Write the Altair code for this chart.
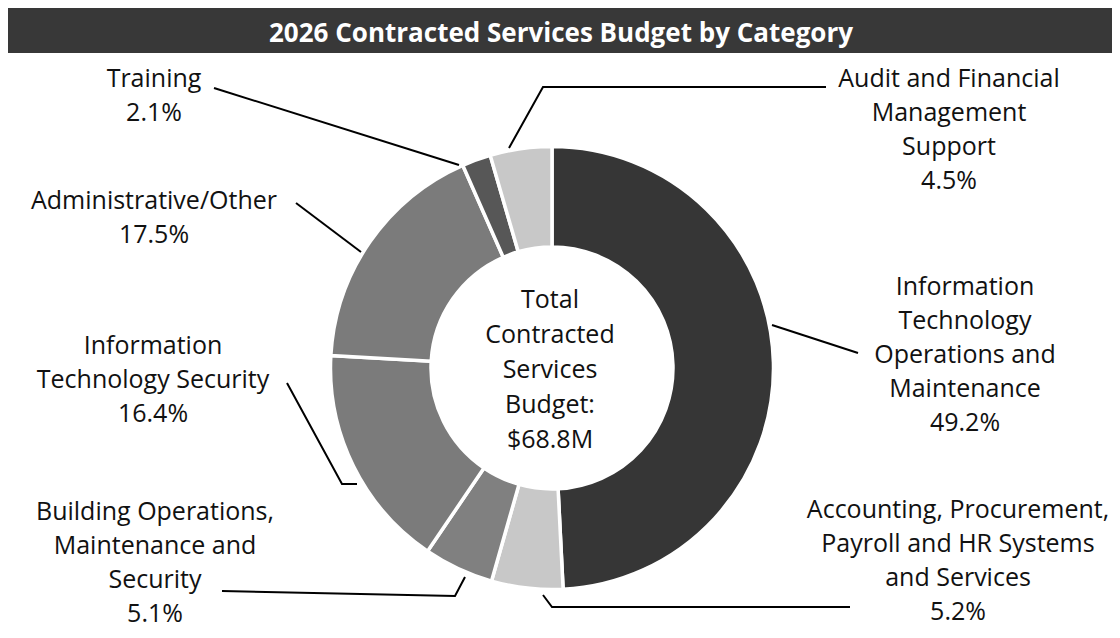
import altair as alt
import pandas as pd

# ---------------- data ----------------
categories = [
    "Information Technology Operations and Maintenance",
    "Accounting, Procurement, Payroll and HR Systems and Services",
    "Building Operations, Maintenance and Security",
    "Information Technology Security",
    "Administrative/Other",
    "Training",
    "Audit and Financial Management Support",
]
shares = [49.2, 5.2, 5.1, 16.4, 17.5, 2.1, 4.5]
label_lines = [
    ["Information", "Technology", "Operations and", "Maintenance"],
    ["Accounting, Procurement,", "Payroll and HR Systems", "and Services"],
    ["Building Operations,", "Maintenance and", "Security"],
    ["Information", "Technology Security"],
    ["Administrative/Other"],
    ["Training"],
    ["Audit and Financial", "Management", "Support"],
]
center_lines = ["Total", "Contracted", "Services", "Budget:", "$68.8M"]
title_text = "2026 Contracted Services Budget by Category"

# ---------------- styles / layout ----------------
slice_colors = ["#363636", "#c8c8c8", "#808080", "#7b7b7b", "#7b7b7b", "#575757", "#c8c8c8"]
W, H = 1104, 622
CX, CY = 544, 360
FONT = "Open Sans"
LH = 34

# label anchors (centre x, first baseline y), chart pixel coordinates
label_anchor = [
    (957, 287),   # IT Ops
    (950, 510),   # Accounting
    (147, 512),   # Building
    (145, 346),   # IT Security
    (146, 201),   # Administrative
    (146, 79),    # Training
    (941, 79),    # Audit
]
leader_paths = [
    [(764, 317), (850, 345)],
    [(535, 587), (544, 599), (842, 599)],
    [(214, 583), (447, 588), (457, 569)],
    [(279, 375), (334, 476), (349, 476)],
    [(288, 195), (353, 244)],
    [(206, 80), (451, 157)],
    [(501, 140), (535, 79), (818, 79)],
]

# ---------------- tables ----------------
arc_df = pd.DataFrame({
    "category": categories,
    "share": shares,
    "idx": list(range(len(categories))),
})

lab_rows = []
for i, (cat, s) in enumerate(zip(categories, shares)):
    lines = label_lines[i] + [f"{s:.1f}%"]
    lab_rows.append({"category": cat, "txt": "\n".join(lines),
                     "x": label_anchor[i][0], "y": label_anchor[i][1]})
lab_df = pd.DataFrame(lab_rows)

lead_rows = []
for i, path in enumerate(leader_paths):
    for j, (px, py) in enumerate(path):
        lead_rows.append({"path": categories[i], "seq": j, "x": px, "y": py})
lead_df = pd.DataFrame(lead_rows)

# ---------------- marks ----------------
bar = alt.Chart(pd.DataFrame({"t": [title_text]})).mark_rect(color="#383838").encode(
    x=alt.value(0), x2=alt.value(W), y=alt.value(0), y2=alt.value(45)
)
title = alt.Chart(pd.DataFrame({"t": [title_text]})).mark_text(
    font=FONT, fontSize=26, fontWeight="bold", color="white",
    align="center", baseline="alphabetic"
).encode(x=alt.value(553), y=alt.value(34), text="t:N")

arc = alt.Chart(arc_df).mark_arc(
    outerRadius=221.5, innerRadius=121, stroke="white", strokeWidth=3.5
).encode(
    theta=alt.Theta("share:Q", stack=True),
    order=alt.Order("idx:Q"),
    color=alt.Color("category:N", scale=alt.Scale(domain=categories, range=slice_colors), legend=None),
    x=alt.value(CX), y=alt.value(CY),
)

leaders = alt.Chart(lead_df).mark_line(color="black", strokeWidth=2).encode(
    x=alt.X("x:Q", scale=None, axis=None),
    y=alt.Y("y:Q", scale=None, axis=None),
    detail="path:N",
    order="seq:Q",
)

labels = alt.Chart(lab_df).mark_text(
    font=FONT, fontSize=25, color="#111111", align="center",
    baseline="alphabetic", lineBreak="\n", lineHeight=LH
).encode(
    x=alt.X("x:Q", scale=None, axis=None),
    y=alt.Y("y:Q", scale=None, axis=None),
    text="txt:N",
)

center = alt.Chart(pd.DataFrame({"t": ["\n".join(center_lines)]})).mark_text(
    font=FONT, fontSize=25, color="#111111", align="center",
    baseline="alphabetic", lineBreak="\n", lineHeight=35
).encode(x=alt.value(542), y=alt.value(300), text="t:N")

chart = alt.layer(bar, title, arc, leaders, labels, center).properties(
    width=W, height=H, padding=0, autosize="none"
).configure_view(stroke=None)

chart.save("out.html", embed_options={"renderer": "svg", "actions": False})
